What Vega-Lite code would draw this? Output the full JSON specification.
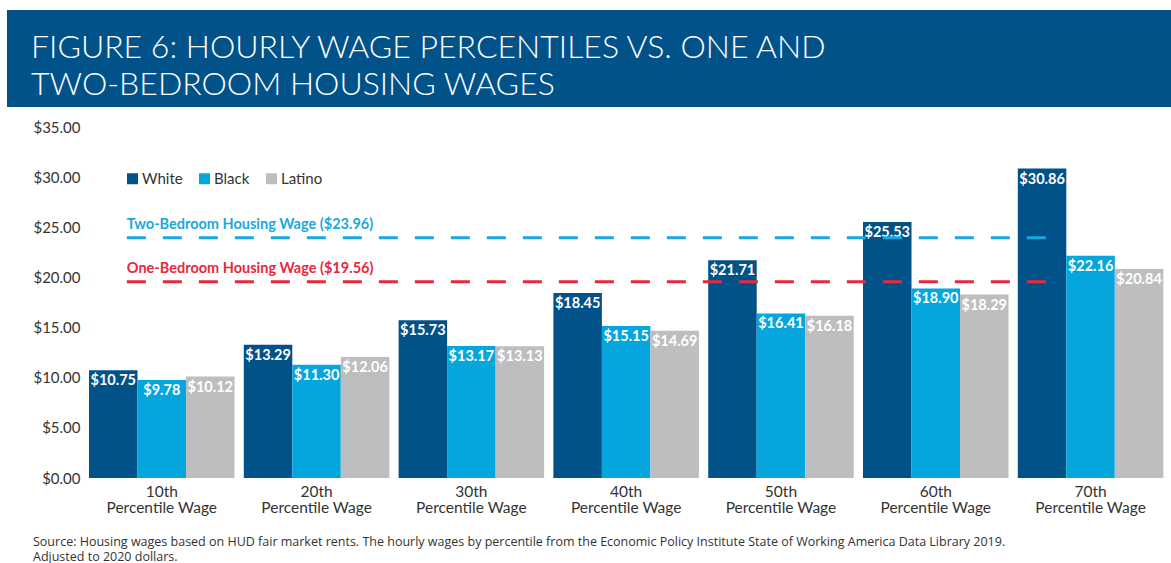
{
  "$schema": "https://vega.github.io/schema/vega-lite/v6.json",
  "padding": {"left": 7, "top": 10, "right": 0, "bottom": 0},
  "background": "white",
  "spacing": 13,
  "resolve": {"legend": {"color": "independent"}, "scale": {"color": "independent"}},
  "config": {"view": {"stroke": null}, "font": "Lato"},
  "vconcat": [
    {
      "width": 1164,
      "height": 97,
      "view": {"fill": "#02528a", "stroke": null},
      "data": {"values": [
        {"line": 1, "t": "FIGURE 6: HOURLY WAGE PERCENTILES VS. ONE AND"},
        {"line": 2, "t": "TWO-BEDROOM HOUSING WAGES"}
      ]},
      "mark": {"type": "text", "align": "left", "baseline": "alphabetic", "font": "Lato", "fontSize": 32, "fontWeight": 300, "fill": "white"},
      "encoding": {
        "y": {"field": "line", "type": "ordinal", "axis": null, "scale": {"type": "point", "padding": 0.81, "align": 0.8}},
        "x": {"value": 24},
        "text": {"field": "t"}
      }
    },
    {
      "width": 1161,
      "height": 351,
      "title": {
        "text": ["Source: Housing wages based on HUD fair market rents. The hourly wages by percentile from the Economic Policy Institute State of Working America Data Library 2019.", "Adjusted to 2020 dollars."],
        "orient": "bottom", "anchor": "start", "frame": "bounds",
        "font": "Open Sans", "fontSize": 12.5, "fontWeight": "normal", "color": "#333333",
        "lineHeight": 15, "offset": 20, "dx": 26
      },
      "data": {"values": [
        {"pct": "10th Percentile Wage", "race": "White", "wage": 10.75},
        {"pct": "10th Percentile Wage", "race": "Black", "wage": 9.78},
        {"pct": "10th Percentile Wage", "race": "Latino", "wage": 10.12},
        {"pct": "20th Percentile Wage", "race": "White", "wage": 13.29},
        {"pct": "20th Percentile Wage", "race": "Black", "wage": 11.30},
        {"pct": "20th Percentile Wage", "race": "Latino", "wage": 12.06},
        {"pct": "30th Percentile Wage", "race": "White", "wage": 15.73},
        {"pct": "30th Percentile Wage", "race": "Black", "wage": 13.17},
        {"pct": "30th Percentile Wage", "race": "Latino", "wage": 13.13},
        {"pct": "40th Percentile Wage", "race": "White", "wage": 18.45},
        {"pct": "40th Percentile Wage", "race": "Black", "wage": 15.15},
        {"pct": "40th Percentile Wage", "race": "Latino", "wage": 14.69},
        {"pct": "50th Percentile Wage", "race": "White", "wage": 21.71},
        {"pct": "50th Percentile Wage", "race": "Black", "wage": 16.41},
        {"pct": "50th Percentile Wage", "race": "Latino", "wage": 16.18},
        {"pct": "60th Percentile Wage", "race": "White", "wage": 25.53},
        {"pct": "60th Percentile Wage", "race": "Black", "wage": 18.90},
        {"pct": "60th Percentile Wage", "race": "Latino", "wage": 18.29},
        {"pct": "70th Percentile Wage", "race": "White", "wage": 30.86},
        {"pct": "70th Percentile Wage", "race": "Black", "wage": 22.16},
        {"pct": "70th Percentile Wage", "race": "Latino", "wage": 20.84}
      ]},
      "encoding": {
        "x": {
          "field": "pct", "type": "nominal", "title": null,
          "scale": {"paddingInner": 0.06, "paddingOuter": 0.28, "align": 0.946},
          "axis": {"labelAngle": 0, "ticks": false, "domain": false, "labelFont": "Lato", "labelFontSize": 15.5, "labelColor": "#333333", "labelPadding": 6, "labelLineHeight": 16,
                   "labelExpr": "[slice(datum.value, 0, 4), 'Percentile Wage']"}
        },
        "y": {
          "field": "wage", "type": "quantitative", "title": null,
          "scale": {"domain": [0, 35]},
          "axis": {"values": [0, 5, 10, 15, 20, 25, 30, 35], "format": "$.2f", "grid": false, "ticks": false, "domain": false, "labelFont": "Lato", "labelFontSize": 15, "labelColor": "#333333", "labelPadding": 4, "offset": -77}
        }
      },
      "layer": [
        {
          "mark": {"type": "bar"},
          "encoding": {
            "xOffset": {"field": "race", "type": "nominal", "sort": ["White", "Black", "Latino"], "scale": {"paddingInner": 0, "paddingOuter": 0}},
            "color": {
              "field": "race", "type": "nominal",
              "scale": {"domain": ["White", "Black", "Latino"], "range": ["#02528a", "#05a6de", "#bdbec0"]},
              "legend": {"orient": "none", "legendX": 118, "legendY": 44, "direction": "horizontal", "title": null, "symbolType": "square", "symbolSize": 121, "symbolStrokeWidth": 0, "symbolOpacity": 1, "labelFont": "Lato", "labelFontSize": 15, "labelColor": "#333333", "labelOffset": 2, "columnPadding": 14}
            }
          }
        },
        {
          "mark": {"type": "text", "align": "center", "baseline": "top", "dy": 4, "fill": "white", "fontWeight": "bold", "fontSize": 14.5, "font": "Lato"},
          "encoding": {
            "xOffset": {"field": "race", "type": "nominal", "sort": ["White", "Black", "Latino"], "scale": {"paddingInner": 0, "paddingOuter": 0}},
            "text": {"field": "wage", "type": "quantitative", "format": "$.2f"}
          }
        },
        {
          "data": {"values": [
            {"kind": "two", "label": "Two-Bedroom Housing Wage ($23.96)", "v": 23.96, "s": "10th Percentile Wage", "e": "70th Percentile Wage"},
            {"kind": "one", "label": "One-Bedroom Housing Wage ($19.56)", "v": 19.56, "s": "10th Percentile Wage", "e": "70th Percentile Wage"}
          ]},
          "mark": {"type": "rule", "strokeWidth": 3, "strokeDash": [19, 17]},
          "encoding": {
            "x": {"field": "s", "type": "nominal", "bandPosition": 0.26},
            "x2": {"field": "e", "bandPosition": 0.28},
            "y": {"field": "v", "type": "quantitative"},
            "stroke": {"field": "kind", "type": "nominal", "scale": {"domain": ["two", "one"], "range": ["#1aa8e0", "#e8283c"]}, "legend": null}
          }
        },
        {
          "data": {"values": [
            {"kind": "two", "label": "Two-Bedroom Housing Wage ($23.96)", "v": 23.96, "s": "10th Percentile Wage"},
            {"kind": "one", "label": "One-Bedroom Housing Wage ($19.56)", "v": 19.56, "s": "10th Percentile Wage"}
          ]},
          "mark": {"type": "text", "align": "left", "baseline": "alphabetic", "dy": -9, "fontWeight": "bold", "fontSize": 14.5, "font": "Lato"},
          "encoding": {
            "x": {"field": "s", "type": "nominal", "bandPosition": 0.26},
            "y": {"field": "v", "type": "quantitative"},
            "text": {"field": "label"},
            "fill": {"field": "kind", "type": "nominal", "scale": {"domain": ["two", "one"], "range": ["#1aa8e0", "#e8283c"]}, "legend": null}
          }
        }
      ]
    }
  ]
}
